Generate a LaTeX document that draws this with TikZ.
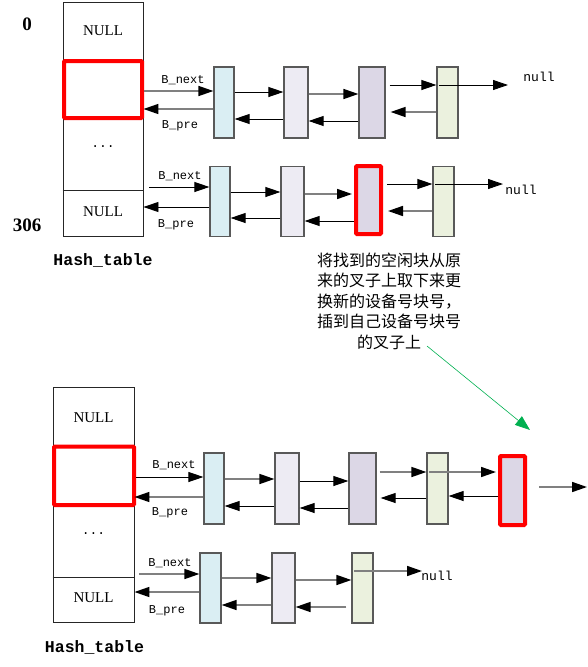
\documentclass[tikz,border=0pt]{standalone}
\usepackage{fontspec}
\setmainfont{Liberation Serif}
\setmonofont{Liberation Mono}
\newfontfamily\cjk{Noto Sans CJK SC}
\usetikzlibrary{arrows.meta,calc}
\definecolor{blkA}{HTML}{DAEEF3}
\definecolor{blkB}{HTML}{EDEBF3}
\definecolor{blkC}{HTML}{DCD7E6}
\definecolor{blkD}{HTML}{EBF1DE}
\definecolor{notegreen}{HTML}{00B050}
\newcommand{\lnk}[3]{\draw[#1] ($(#2)$) -- ($(#3)$);}

\begin{document}
\begin{tikzpicture}[x=1pt,y=-1pt,
  blk/.style={draw=black!65, line width=1.2pt, minimum height=71pt, inner sep=0pt},
  sel/.style={draw=red, line width=4pt, rounded corners=1pt, inner sep=0pt},
  tbl/.style={draw=black!85, line width=0.9pt, inner sep=0pt},
  bl/.style={-{Triangle[length=15pt,width=10pt]}, line width=0.9pt},
  gl/.style={-{Triangle[length=15pt,width=10pt,color=black]}, line width=1.6pt, black!50},
  lbl/.style={font=\ttfamily\fontsize{12}{12}\selectfont, inner sep=0pt},
  cell/.style={font=\fontsize{15}{15}\selectfont, inner sep=0pt},
  dots/.style={font=\ttfamily\fontsize{13}{13}\selectfont, inner sep=0pt},
  idx/.style={font=\bfseries\fontsize{19}{19}\selectfont, inner sep=0pt},
  captxt/.style={font=\ttfamily\bfseries\fontsize{16.5}{16.5}\selectfont, inner sep=0pt},
  nul/.style={font=\ttfamily\fontsize{13}{13}\selectfont, inner sep=0pt},
]
\useasboundingbox (0,0) rectangle (588,667);

%top table
\node[tbl, minimum width=80pt, minimum height=234pt] (T1) at (103,119) {};
\draw[black!85, line width=0.9pt] (T1.west |- 0,190) -- (T1.east |- 0,190);
\node[cell] (T1n) at (103,31) {NULL};
\node[dots] (T1d) at (103,147) {...};
\node[cell] (T1m) at (103,212) {NULL};
\node[sel, minimum width=78pt, minimum height=57pt] (T1s) at (103,89.5) {};
\node[idx] (i0) at (27,24) {0};
\node[idx] (i306) at (27,225) {306};
\node[captxt] (T1c) at (103,260) {Hash\_table};

%top row 1
\node[blk, fill=blkA, minimum width=20pt] (a1) at (224,102.5) {};
\node[blk, fill=blkB, minimum width=24pt] (a2) at (296,102.5) {};
\node[blk, fill=blkC, minimum width=26pt] (a3) at (372,102.5) {};
\node[blk, fill=blkD, minimum width=21pt] (a4) at (447.5,102.5) {};
\coordinate (a5) at (508,85);
\node[nul] (a5t) at (539,77) {null};

\lnk{gl}{T1s.east |- 0,91}{a1.west |- 0,91}
\lnk{gl}{a1.west |- 0,109}{T1.east |- 0,109}
\lnk{bl}{a1.east |- 0,92}{a2.west |- 0,92}
\lnk{bl}{a2.west |- 0,119}{a1.east |- 0,119}
\lnk{gl}{a2.east |- 0,94}{a3.west |- 0,94}
\lnk{bl}{a3.west |- 0,121}{a2.east |- 0,121}
\lnk{bl}{a3.east |- 0,85)+(4,0}{a4.west |- 0,85}
\lnk{gl}{a4.west |- 0,112}{a3.east |- 0,112)+(5,0}
\lnk{bl}{a4.west |- 0,85)+(3,0}{a5}
\node[lbl] (a1n) at (183,80) {B\_next};
\node[lbl] (a1p) at (180,126) {B\_pre};

%top row 2
\node[blk, fill=blkA, minimum width=20pt, minimum height=70pt] (b1) at (220,201.5) {};
\node[blk, fill=blkB, minimum width=23pt, minimum height=70pt] (b2) at (292.5,201.5) {};
\node[blk, sel, fill=blkC, minimum width=25pt, minimum height=68pt] (b3) at (368.5,200) {};
\node[blk, fill=blkD, minimum width=21pt, minimum height=70pt] (b4) at (443.5,201.5) {};
\coordinate (b5) at (503,184);
\node[nul] (b5t) at (521,190) {null};

\lnk{bl}{T1.east |- 0,187)+(6,0}{b1.west |- 0,187}
\lnk{bl}{b1.west |- 0,207}{T1.east |- 0,207}
\lnk{bl}{b1.east |- 0,192}{b2.west |- 0,192}
\lnk{bl}{b2.west |- 0,218}{b1.east |- 0,218}
\lnk{gl}{b2.east |- 0,194}{b3.west |- 0,194)+(-2,0}
\lnk{bl}{b3.west |- 0,221}{b2.east |- 0,221}
\lnk{bl}{b3.east |- 0,184)+(4,0}{b4.west |- 0,184}
\lnk{gl}{b4.west |- 0,211}{b3.east |- 0,211)+(5,0}
\lnk{bl}{b4.west |- 0,184)+(3,0}{b5}
\node[lbl] (b1n) at (180,176) {B\_next};
\node[lbl] (b1p) at (176,225) {B\_pre};

%note
\node[font=\cjk\fontsize{16}{20.5}\selectfont, align=center, inner sep=0pt] (note) at (389,301)
  {将找到的空闲块从原\\来的叉子上取下来更\\换新的设备号块号，\\插到自己设备号块号\\的叉子上};
\coordinate (g0) at (427,346);
\coordinate (g1) at (530,430);
\draw[-{Triangle[length=15pt,width=11pt]}, notegreen, line width=0.6pt] (g0) -- (g1);

%bottom table
\node[tbl, minimum width=81pt, minimum height=235pt] (T2) at (93.5,504.5) {};
\draw[black!85, line width=0.9pt] (T2.west |- 0,577) -- (T2.east |- 0,577);
\node[cell] (T2n) at (93.5,418) {NULL};
\node[dots] (T2d) at (93.5,534) {...};
\node[cell] (T2m) at (93.5,598) {NULL};
\node[sel, minimum width=80pt, minimum height=58.5pt] (T2s) at (94,475.75) {};
\node[captxt] (T2c) at (94.5,647) {Hash\_table};

%bottom row 1
\node[blk, fill=blkA, minimum width=20pt] (c1) at (214,488.5) {};
\node[blk, fill=blkB, minimum width=24pt] (c2) at (287,488.5) {};
\node[blk, fill=blkC, minimum width=27pt] (c3) at (362.5,488.5) {};
\node[blk, fill=blkD, minimum width=21pt] (c4) at (437.5,488.5) {};
\node[blk, sel, fill=blkC, minimum width=25pt, minimum height=69pt] (c5) at (512.5,490.5) {};
\coordinate (c6) at (587,487);

\lnk{bl}{T2s.east |- 0,477}{c1.west |- 0,477}
\lnk{gl}{c1.west |- 0,497}{T2.east |- 0,497}
\lnk{gl}{c1.east |- 0,479}{c2.west |- 0,479}
\lnk{bl}{c2.west |- 0,506}{c1.east |- 0,506}
\lnk{bl}{c2.east |- 0,481}{c3.west |- 0,481}
\lnk{bl}{c3.west |- 0,508}{c2.east |- 0,508}
\lnk{gl}{c3.east |- 0,472)+(3,0}{c4.west |- 0,472}
\lnk{bl}{c4.west |- 0,498}{c3.east |- 0,498)+(4,0}
\lnk{gl}{c4.west |- 0,472)+(3,0}{c5.west |- 0,472)+(-2,0}
\lnk{bl}{c5.west |- 0,496}{c4.east |- 0,496}
\lnk{gl}{c5.east |- 0,487)+(12,0}{c6}
\node[lbl] (c1n) at (174,465) {B\_next};
\node[lbl] (c1p) at (170,513) {B\_pre};

%bottom row 2
\node[blk, fill=blkA, minimum width=21pt, minimum height=70pt] (d1) at (210.5,588) {};
\node[blk, fill=blkB, minimum width=23pt, minimum height=70pt] (d2) at (283.5,588) {};
\node[blk, fill=blkD, minimum width=21pt, minimum height=70pt] (d3) at (362.5,588) {};
\coordinate (d4) at (422,571);
\node[nul] (d4t) at (437,576) {null};

\lnk{gl}{T2.east |- 0,574)+(5,0}{d1.west |- 0,574}
\lnk{gl}{d1.west |- 0,592}{T2.east |- 0,592}
\lnk{gl}{d1.east |- 0,578}{d2.west |- 0,578}
\lnk{gl}{d2.west |- 0,605}{d1.east |- 0,605}
\lnk{gl}{d2.east |- 0,580}{d3.west |- 0,580}
\lnk{gl}{d3.west |- 0,607)+(-5,0}{d2.east |- 0,607}
\lnk{gl}{d3.west |- 0,571)+(3,0}{d4}
\node[lbl] (d1n) at (170,563) {B\_next};
\node[lbl] (d1p) at (167,611) {B\_pre};

\end{tikzpicture}
\end{document}
